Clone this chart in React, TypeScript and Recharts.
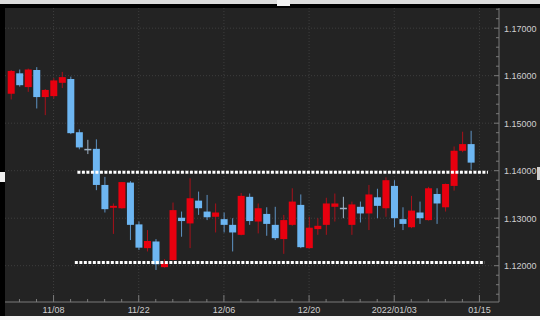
import { ComposedChart, Bar, XAxis, YAxis, ReferenceLine, CartesianGrid } from 'recharts'

// EUR/USD daily, 2021/11/01 - 2022/01/14
const dates = [
  '11/01', '11/02', '11/03', '11/04', '11/05', '11/08', '11/09', '11/10', '11/11', '11/12',
  '11/15', '11/16', '11/17', '11/18', '11/19', '11/22', '11/23', '11/24', '11/25', '11/26',
  '11/29', '11/30', '12/01', '12/02', '12/03', '12/06', '12/07', '12/08', '12/09', '12/10',
  '12/13', '12/14', '12/15', '12/16', '12/17', '12/20', '12/21', '12/22', '12/23', '12/24',
  '12/27', '12/28', '12/29', '12/30', '12/31', '01/03', '01/04', '01/05', '01/06', '01/07',
  '01/10', '01/11', '01/12', '01/13', '01/14',
]
const opens = [
  1.1562, 1.1605, 1.1576, 1.1612, 1.1555, 1.1557, 1.1585, 1.1593, 1.1481, 1.1446,
  1.1446, 1.137, 1.1322, 1.1321, 1.1375, 1.1287, 1.1237, 1.1251, 1.1197, 1.1212,
  1.1301, 1.1289, 1.1337, 1.1314, 1.1303, 1.1298, 1.1286, 1.1265, 1.1345, 1.1293,
  1.1309, 1.1286, 1.1256, 1.1286, 1.1328, 1.1237, 1.1277, 1.1286, 1.1324, 1.1322,
  1.1286, 1.1324, 1.131, 1.1344, 1.1321, 1.1368, 1.1298, 1.1281, 1.1312, 1.1296,
  1.1351, 1.1323, 1.1368, 1.1442, 1.1456,
]
const highs = [
  1.1612, 1.1613, 1.1615, 1.1618, 1.1572, 1.1595, 1.1608, 1.1598, 1.1487, 1.1465,
  1.1466, 1.1387, 1.1331, 1.1376, 1.1378, 1.1293, 1.1275, 1.1256, 1.1214, 1.1333,
  1.1314, 1.1384, 1.1356, 1.1349, 1.1331, 1.1312, 1.13, 1.1353, 1.1352, 1.1331,
  1.1323, 1.1324, 1.1307, 1.1363, 1.135, 1.1303, 1.13, 1.1343, 1.1352, 1.1345,
  1.1335, 1.1335, 1.137, 1.1362, 1.1386, 1.138, 1.1323, 1.1347, 1.1335, 1.1366,
  1.1363, 1.1373, 1.1451, 1.1482, 1.1484,
]
const lows = [
  1.155, 1.1577, 1.1566, 1.1531, 1.1517, 1.1552, 1.1574, 1.1477, 1.1445, 1.1435,
  1.1359, 1.1312, 1.1267, 1.132, 1.1254, 1.1233, 1.123, 1.1191, 1.1196, 1.1211,
  1.1261, 1.1237, 1.1307, 1.1296, 1.127, 1.127, 1.123, 1.1264, 1.1286, 1.1268,
  1.1263, 1.1254, 1.1225, 1.1284, 1.1237, 1.1236, 1.1265, 1.1265, 1.1293, 1.13,
  1.1265, 1.1291, 1.1275, 1.13, 1.1303, 1.1281, 1.1275, 1.1279, 1.1288, 1.1295,
  1.1288, 1.1314, 1.1358, 1.1439, 1.1402,
]
const closes = [
  1.161, 1.158, 1.1613, 1.1555, 1.157, 1.159, 1.1597, 1.1479, 1.1449, 1.1445,
  1.137, 1.1319, 1.1326, 1.1376, 1.1286, 1.1238, 1.1252, 1.1203, 1.1205, 1.1317,
  1.1294, 1.1342, 1.1321, 1.1302, 1.1312, 1.1286, 1.127, 1.1347, 1.1294, 1.1321,
  1.1288, 1.1258, 1.1296, 1.1335, 1.1239, 1.128, 1.1284, 1.1331, 1.1331, 1.132,
  1.1329, 1.131, 1.135, 1.1326, 1.138, 1.13, 1.1288, 1.1316, 1.13, 1.1363,
  1.1331, 1.1372, 1.1442, 1.1456, 1.1417,
]

const tickIndex = [5, 15, 25, 35, 45, 55]
const tickLabels = ['11/08', '11/22', '12/06', '12/20', '2022/01/03', '01/15']
const priceTicks = [1.12, 1.13, 1.14, 1.15, 1.16, 1.17]

// dotted support / resistance lines
const levels = [1.1397, 1.1207]
const levelFrom = [7.8, 7.5]
const levelTo = [56.0, 55.6]

const data = dates.map((d, i) => ({
  i,
  date: d,
  open: opens[i],
  high: highs[i],
  low: lows[i],
  close: closes[i],
}))

const minorX = Array.from({ length: 28 }, (_, k) => 2 * k + 1)
const minorY = Array.from({ length: 31 }, (_, k) => Math.round((1.114 + k * 0.002) * 1000) / 1000)

const FONT = '"Liberation Sans", Arial, sans-serif'

function Candle(props: any) {
  const { x, y, width, height, payload } = props
  const { open, close, high, low } = payload
  const top = Math.min(y, y + height)
  const h = Math.abs(height)
  const toY = (v: number) => (high === low ? top : top + ((high - v) / (high - low)) * h)
  const up = close > open
  const doji = Math.abs(close - open) < 0.00025
  const body = up ? '#e8000f' : '#6db6f2'
  const wick = doji ? '#9db2c6' : up ? '#a8111a' : '#5e93c4'
  const yo = toY(open)
  const yc = toY(close)
  const bt = Math.min(yo, yc)
  const bh = Math.max(1.5, Math.abs(yo - yc))
  const cx = x + width / 2
  return (
    <g>
      <line x1={cx} x2={cx} y1={top} y2={top + h} stroke={wick} strokeWidth={1} />
      <rect x={x} y={bt} width={width} height={bh} fill={doji ? wick : body} />
    </g>
  )
}

function XTick(props: any) {
  const { x, y, payload } = props
  const k = tickIndex.indexOf(payload.value)
  const major = k >= 0
  return (
    <g>
      <line x1={x} x2={x} y1={y} y2={y - (major ? 7 : 3)} stroke="#7a7a7a" />
      {major && (
        <text x={x} y={y + 11} textAnchor="middle" fill="#cfcfcf" fontSize={9} fontFamily={FONT}>
          {tickLabels[k]}
        </text>
      )}
    </g>
  )
}

function YTick(props: any) {
  const { x, y, payload } = props
  const v = payload.value
  const major = Math.abs(v * 100 - Math.round(v * 100)) < 1e-6
  return (
    <g>
      <line x1={x} x2={x - (major ? 5 : 3)} y1={y} y2={y} stroke="#7a7a7a" />
      {major && (
        <text x={x + 5} y={y + 3.5} textAnchor="start" fill="#cfcfcf" fontSize={9} fontFamily={FONT}>
          {v.toFixed(5)}
        </text>
      )}
    </g>
  )
}

export default function App() {
  return (
    <div style={{ position: 'fixed', left: 0, top: 0, width: 540, height: 320, background: '#232323', overflow: 'hidden' }}>
      <ComposedChart width={540} height={320} data={data} margin={{ top: 8, right: 0, bottom: 4, left: 5 }}>
        <CartesianGrid
          stroke="#3e3e3e"
          strokeDasharray="1 2"
          verticalValues={tickIndex}
          horizontalValues={priceTicks}
        />
        <XAxis
          dataKey="i"
          type="number"
          domain={[-0.7, 57.3]}
          allowDataOverflow
          ticks={minorX}
          interval={0}
          tick={<XTick />}
          tickLine={false}
          tickSize={0}
          tickMargin={0}
          height={14}
          axisLine={{ stroke: '#7a7a7a' }}
        />
        <YAxis
          orientation="right"
          type="number"
          domain={[1.11236, 1.17425]}
          allowDataOverflow
          ticks={minorY}
          interval={0}
          tick={<YTick />}
          tickLine={false}
          tickSize={0}
          tickMargin={0}
          width={41}
          axisLine={{ stroke: '#7a7a7a' }}
        />
        <Bar dataKey={(d: any) => [d.low, d.high]} barSize={7} shape={<Candle />} isAnimationActive={false} />
        {levels.map((lv, k) => (
          <ReferenceLine
            key={'lv' + k}
            segment={[{ x: levelFrom[k], y: lv }, { x: levelTo[k], y: lv }]}
            stroke="#ffffff"
            strokeWidth={3}
            strokeDasharray="3 1.5"
          />
        ))}
      </ComposedChart>
      <div style={{ position: 'absolute', left: 0, top: 0, width: 540, height: 4, background: '#dcdcdc' }} />
      <div style={{ position: 'absolute', left: 0, top: 4, width: 540, height: 4, background: '#000' }} />
      <div style={{ position: 'absolute', left: 277, top: 0, width: 13, height: 6, background: '#f2f2f2' }} />
      <div style={{ position: 'absolute', left: 0, top: 4, width: 5, height: 312, background: '#000' }} />
      <div style={{ position: 'absolute', left: 0, top: 172, width: 5, height: 10, background: '#f0f0f0' }} />
      <div style={{ position: 'absolute', left: 537, top: 167, width: 3, height: 13, background: '#cfcfcf' }} />
      <div style={{ position: 'absolute', left: 0, top: 316, width: 540, height: 4, background: '#f4f4f4' }} />
    </div>
  )
}
